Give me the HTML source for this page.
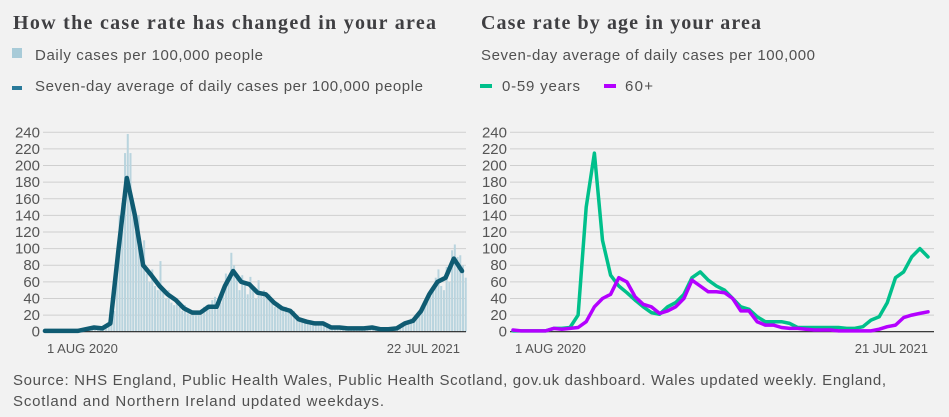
<!DOCTYPE html>
<html><head><meta charset="utf-8"><style>
html,body{margin:0;padding:0;background:#f2f2f2;}
svg{display:block;font-family:"Liberation Sans",sans-serif;}
</style></head><body>
<svg id="c" width="949" height="417" viewBox="0 0 949 417">
<rect width="949" height="417" fill="#f2f2f2"/>
<text x="13" y="29" font-family="Liberation Serif,serif" font-weight="bold" font-size="20" fill="#3f3f42" textLength="423">How the case rate has changed in your area</text>
<rect x="12" y="48" width="10" height="10" fill="#a8cbd8"/>
<text x="35" y="60" font-size="15" fill="#505050" textLength="228">Daily cases per 100,000 people</text>
<rect x="12" y="86" width="10" height="4" fill="#2a7a9a"/>
<text x="35" y="91" font-size="15" fill="#505050" textLength="388">Seven-day average of daily cases per 100,000 people</text>
<text x="481" y="29" font-family="Liberation Serif,serif" font-weight="bold" font-size="20" fill="#3f3f42" textLength="280">Case rate by age in your area</text>
<text x="481" y="60" font-size="15" fill="#505050" textLength="334">Seven-day average of daily cases per 100,000</text>
<rect x="480" y="84" width="12" height="4" fill="#00c08b"/>
<text x="502" y="91" font-size="15" fill="#505050" textLength="78">0-59 years</text>
<rect x="604" y="84" width="12" height="4" fill="#b400ff"/>
<text x="625" y="91" font-size="15" fill="#505050" textLength="28">60+</text>
<g id="left"></g>
<g id="right"></g>
<text x="13" y="385" font-size="15" fill="#505050" textLength="873">Source: NHS England, Public Health Wales, Public Health Scotland, gov.uk dashboard. Wales updated weekly. England,</text>
<text x="13" y="406" font-size="15" fill="#505050" textLength="371">Scotland and Northern Ireland updated weekdays.</text>
</svg>
<script>
const yTicks=[0,20,40,60,80,100,120,140,160,180,200,220,240];
const avgValues=[1,1,1,1,1,3,5,4,10,100,185,140,80,68,55,45,38,28,23,23,30,30,55,73,60,57,47,45,35,28,25,15,12,10,10,5,5,4,4,4,5,3,3,4,10,13,25,45,60,65,88,73];
const dailyValues=[1,2,1,2,1,1,1,2,1,2,1,2,1,2,1,3,4,2,6,5,4,4,5,4,8,12,25,80,140,155,215,238,215,150,120,140,95,110,70,60,75,55,50,85,50,40,50,35,32,40,30,25,32,22,20,26,22,25,20,30,32,28,38,42,28,35,48,70,60,95,80,70,50,68,60,45,66,55,40,62,45,50,40,45,38,30,35,32,25,30,28,22,25,18,14,15,12,10,14,10,12,9,11,9,10,6,5,5,6,4,5,5,4,4,4,5,4,5,4,5,6,5,4,3,4,3,4,3,3,4,5,5,8,10,12,16,14,18,22,28,30,40,50,55,65,75,55,50,78,60,98,105,90,92,80,65];
const youngValues=[1,1,1,1,1,4,4,5,20,150,215,110,68,55,47,38,30,23,21,30,35,45,65,72,62,55,50,40,30,27,18,12,12,12,10,5,5,5,5,5,5,4,4,6,14,18,35,65,72,90,100,90];
const oldValues=[2,1,1,1,1,4,3,4,5,12,30,40,45,65,60,42,33,30,22,25,30,40,62,55,48,48,47,40,25,25,12,8,8,5,4,4,3,2,2,2,1,1,1,1,1,3,6,8,17,20,22,24];
const xLabelsLeft=["1 AUG 2020","22 JUL 2021"];
const xLabelsRight=["1 AUG 2020","21 JUL 2021"];
const NS="http://www.w3.org/2000/svg";
const yTop=132.3,yBot=331.7,yMax=240;
function yScale(v){return yBot-(v/yMax)*(yBot-yTop);}
function mk(tag,attrs,parent){const e=document.createElementNS(NS,tag);for(const k in attrs)e.setAttribute(k,attrs[k]);parent.appendChild(e);return e;}
function axes(g,gx0,gx1,labelX,xl,x0,x1){
  yTicks.forEach(t=>{
    const y=yScale(t);
    if(t>0){const l=mk('line',{x1:gx0,x2:gx1,y1:y,y2:y,stroke:'#cfcfcf','stroke-width':1},g);
      
      }
    const tx=mk('text',{x:labelX,y:y+5,'text-anchor':'end','font-size':15,fill:'#555'},g);
    tx.textContent=t;
    
    
  });
  const lab0=mk('text',{x:x0+2,y:353,'font-size':13,fill:'#555'},g);lab0.textContent=xl[0];
  
  
  const lab1=mk('text',{x:x1,y:353,'font-size':13,fill:'#555','text-anchor':'end'},g);lab1.textContent=xl[1];
  
  
}
function line(g,vals,x0,x1,color,w,name){
  const n=vals.length;
  const pts=vals.map((v,i)=>(x0+(x1-x0)*i/(n-1)).toFixed(1)+','+yScale(v).toFixed(1)).join(' ');
  const p=mk('polyline',{points:pts,fill:'none',stroke:color,'stroke-width':w,'stroke-linejoin':'round','stroke-linecap':'round'},g);
  
  
}
function baseline(g,a,b){const l=mk('line',{x1:a,x2:b,y1:yBot,y2:yBot,stroke:'#222','stroke-width':1.2},g);
  
  }
// left
const L=document.getElementById('left');
axes(L,43,466,40,xLabelsLeft,45,460);
const lx0=45,lx1=462,nb=dailyValues.length,bw=(lx1-lx0)/nb;
dailyValues.forEach((v,i)=>{
  const r=mk('rect',{x:lx0+(lx1-lx0)*(i-1)/(nb-3),y:yScale(v),width:bw*0.75,height:yBot-yScale(v),fill:'#b9d4de'},L);
  
  
});
baseline(L,43,466);
line(L,avgValues,lx0,lx1,'#0f5b72',4.5,'seven-day-average-line');
// right
const R=document.getElementById('right');
axes(R,510,934,507,xLabelsRight,513,928);
baseline(R,510,934);
line(R,youngValues,513,928,'#00c08b',3.5,'young-line');
line(R,oldValues,513,928,'#b400ff',3.5,'old-line');
</script>
</body></html>
